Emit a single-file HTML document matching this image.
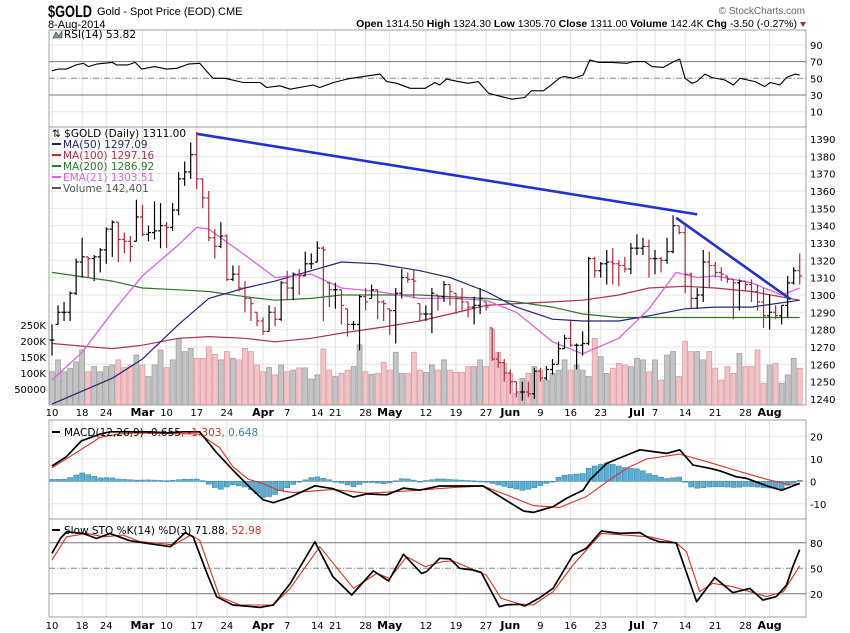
<!DOCTYPE html>
<html><head><meta charset="utf-8">
<style>
html,body{margin:0;padding:0;background:#fff;}
svg{display:block;font-family:"DejaVu Sans","Liberation Sans",sans-serif;}
</style></head>
<body>
<svg id="chart" width="850" height="633" viewBox="0 0 850 633" xmlns="http://www.w3.org/2000/svg">
<defs>
<clipPath id="cRsi"><rect x="49" y="30" width="757" height="97"/></clipPath>
<clipPath id="cPx"><rect x="49" y="127" width="757" height="278"/></clipPath>
<clipPath id="cMacd"><rect x="49" y="420" width="757" height="99"/></clipPath>
<clipPath id="cSto"><rect x="49" y="519" width="757" height="98"/></clipPath>
</defs>
<rect x="0" y="0" width="850" height="633" fill="#fff"/>
<text x="48" y="17" font-size="17" font-weight="bold" fill="#000" font-family="Liberation Sans, sans-serif" textLength="44" lengthAdjust="spacingAndGlyphs">$GOLD</text>
<text x="97" y="15" font-size="11" fill="#000" font-family="Liberation Sans, sans-serif">Gold - Spot Price (EOD)  CME</text>
<text x="48" y="28" font-size="11" fill="#000" font-family="Liberation Sans, sans-serif">8-Aug-2014</text>
<text x="805" y="14" font-size="10" fill="#666" text-anchor="end" font-family="Liberation Sans, sans-serif">© StockCharts.com</text>
<text x="797" y="27" font-size="10.5" fill="#000" text-anchor="end" font-family="Liberation Sans, sans-serif"><tspan font-weight="bold">Open</tspan> 1314.50 <tspan font-weight="bold">High</tspan> 1324.30 <tspan font-weight="bold">Low</tspan> 1305.70 <tspan font-weight="bold">Close</tspan> 1311.00 <tspan font-weight="bold">Volume</tspan> 142.4K <tspan font-weight="bold">Chg</tspan> -3.50 (-0.27%)</text>
<path d="M800 22 L806 22 L803 27 Z" fill="#a0283a"/>
<g id="grid"></g>
<g id="marks"></g>
<g id="frames"></g>
<g id="labels"></g>
</svg>
<script>
// ---- data ----
const tickDays = [0,5,9,15,19,24,29,35,39,44,47,52,56,62,67,72,76,81,86,91,97,100,105,110,115,119];
const tickLabels = ["10","18","24","Mar","10","17","24","Apr","7","14","21","28","May","12","19","27","Jun","9","16","23","Jul","7","14","21","28","Aug"];
const closes = [1274,1290,1290,1301,1319,1322,1321,1322,1326,1338,1342,1332,1331,1328,1345,1335,1336,1337,1340,1339,1349,1367,1371,1381,1367,1356,1333,1328,1334,1309,1312,1304,1298,1295,1285,1279,1290,1286,1307,1304,1312,1311,1318,1318,1327,1326,1303,1303,1294,1283,1283,1299,1296,1303,1296,1295,1291,1301,1310,1309,1308,1289,1289,
1301,1299,1306,1302,1298,1296,1293,1294,1298,1293,1263,1261,1255,1250,1244,1244,1243,1256,1252,1257,1260,1269,1275,1271,1271,1272,1321,1314,1318,1319,1318,1317,1315,1327,1327,1328,1321,1321,1320,1325,1340,1336,1312,1298,1300,1319,1317,1313,1312,1309,1307,1308,1306,1302,1296,1288,1290,1288,1294,1307,1314,1311];
const highs = [1283,1294,1296,1302,1321,1333,1322,1323,1327,1339,1343,1342,1336,1334,1355,1352,1340,1354,1353,1342,1353,1371,1377,1388,1394,1367,1360,1338,1342,1335,1317,1317,1308,1298,1290,1287,1294,1293,1308,1314,1313,1315,1325,1324,1331,1328,1307,1307,1303,1292,1285,1300,1304,1306,1303,1297,1292,1304,1315,1313,1315,1295,1294,
1304,1300,1308,1306,1301,1304,1296,1299,1304,1296,1281,1267,1263,1257,1250,1250,1250,1258,1258,1259,1263,1273,1277,1285,1272,1279,1322,1322,1319,1326,1327,1320,1322,1330,1335,1333,1332,1326,1322,1333,1346,1340,1341,1313,1304,1326,1325,1319,1316,1311,1309,1309,1308,1309,1306,1304,1300,1294,1294,1311,1316,1324];
const lows = [1265,1283,1285,1285,1300,1310,1310,1308,1313,1318,1322,1319,1324,1319,1331,1334,1331,1332,1327,1327,1337,1346,1363,1367,1361,1350,1331,1321,1327,1308,1308,1302,1290,1285,1282,1277,1279,1282,1285,1297,1297,1300,1311,1315,1319,1285,1293,1292,1283,1276,1280,1268,1291,1298,1286,1285,1277,1272,1298,1307,1298,1285,1285,
1278,1291,1296,1294,1289,1291,1287,1283,1289,1291,1262,1258,1250,1243,1241,1239,1241,1240,1250,1251,1254,1260,1269,1270,1257,1265,1271,1310,1310,1306,1306,1305,1313,1312,1323,1323,1310,1312,1313,1318,1324,1335,1301,1292,1292,1296,1304,1310,1308,1307,1286,1291,1302,1296,1291,1281,1280,1286,1283,1287,1306,1306];
const volumesK = [104,141,104,114,135,172,104,120,104,120,125,141,117,125,156,125,89,125,172,117,141,208,167,177,146,146,182,158,141,167,146,141,177,167,125,104,117,94,125,104,109,116,116,81,94,175,109,89,99,109,120,188,104,96,99,133,109,165,99,99,165,109,102,
125,109,141,109,102,102,120,120,141,120,237,165,130,99,36,83,99,120,109,78,99,109,141,109,125,109,89,208,151,99,115,130,125,120,146,141,104,141,78,156,167,89,198,167,167,141,167,115,78,120,99,161,120,120,172,68,125,130,68,94,146,115];
const maDays = [0,10,15,21,26,32,37,43,48,54,61,66,72,77,83,88,94,99,105,110,116,124];
const ma50 = [1237,1252,1263,1283,1298,1304,1308,1314,1319,1318,1314,1310,1302,1293,1286,1285,1285,1288,1292,1293,1293,1297];
const ma100 = [1272,1269,1271,1275,1276,1275,1273,1275,1278,1281,1285,1289,1294,1295,1296,1297,1300,1304,1305,1304,1302,1297];
const ma200 = [1313,1308,1304,1303,1302,1299,1297,1298,1300,1300,1300,1299,1298,1296,1293,1289,1287,1287,1287,1287,1287,1287];
const emaDays = [0,5,10,15,21,24,26,32,37,43,48,54,61,66,72,77,83,88,94,99,103.5,107,110,116,121,124];
const ema21 = [1251,1267,1290,1311,1329,1339,1338,1323,1310,1312,1304,1302,1298,1298,1297,1290,1273,1266,1275,1292,1313,1310,1311,1307,1300,1304];
const rsiDays = [0,1,2.4,4,5.2,6,7.4,10,10.7,12.6,13.8,14.9,17,19,20.7,22.6,24.5,25.7,26.7,28.7,31.7,34.5,35.6,37.8,39.5,43.3,44.4,46.7,48.9,51.6,54.4,55.5,57.2,59.4,61.9,63.5,64.3,65.4,67.4,69,70.7,72.4,74.6,76.3,78.4,79.5,81.5,82.6,84.3,85,86.5,88.1,89.2,90.6,92.8,95.3,96.4,98.3,99.5,101.4,103.1,104.1,105,106.1,106.9,108.3,109.4,111.6,113,114.1,116.6,118.2,119.1,120.7,121.8,123.2,124];
const rsiVals = [59,61,61,66,68,64,67,69,66,66,69,61,64,61,62,67,68,58,50,50,45,45,39,41,37,42,39,45,49,52,55,46,44,38,38,45,42,49,46,44,46,32,28,25,27,35,35,41,51,52,50,54,72,69,69,68,70,70,64,63,70,73,50,44,46,55,51,48,42,50,46,40,45,42,51,55,54];
const macdDays = [0,2.4,4.9,8,9.6,13.5,16.3,19,21.8,24.5,27.3,30,32.8,35,36.7,39.5,43.6,46.6,50,52.2,55.5,58.3,61,64.3,71.5,74.8,78.2,79.8,83.1,85.3,88.1,89.2,92,94.7,97.5,101.9,104.1,106.3,109.1,110.8,113.5,115.2,118.5,121,124];
const macdVals = [6.8,11,18,21,22,22,22,21.5,22,22,12.7,5,-2.6,-8.2,-9.5,-7,-2,-3.3,-7,-5.6,-6,-3,-3.9,-2.1,-2.1,-7.6,-13.2,-13.8,-11.3,-7.6,-3.9,0.6,8,11,14,12.4,14,7.2,5.8,4.6,2,1.3,-2,-4,-0.9];
const signalDays = [0,4,8,11,14,24.5,27.8,30,32.5,35,37.5,40,46.6,52.2,58.3,61,66.5,71.5,75.4,79.8,84.2,88.6,92,95.3,98.6,104.1,108.6,114.1,118.5,121.8,124];
const signalVals = [6,12.7,19.5,21,21.5,21,15,6.5,1,-1,-4,-5,-3.6,-5.3,-4.4,-3.9,-2.8,-2.1,-6.1,-10.8,-11.6,-6.8,-0.2,5.8,9.9,12.1,8.7,4.3,0.9,-1.2,-1.3];
const kDays = [0,1.4,2.4,5.2,7.4,9.6,12.9,15.7,19.6,22.1,23.4,25.7,27.3,30,34.5,36.7,39.5,43.6,46.6,49.7,53.3,55.8,58.3,61.3,62.1,64.3,66,67.6,69.8,71.2,74.2,75.4,77.6,78.4,80.9,83.1,86.4,88.6,91.1,94.1,97.5,99.1,100.8,103.5,106.9,109.9,112.9,115.7,117.9,120.1,121.8,122.9,124];
const kVals = [67.6,85,93,91,85,91,82.5,79.4,75.4,92,87,44,16.6,6.8,4,6.8,32,81,40,18.6,47,35,66.5,44,46,61.8,61,50,48,45,4.8,7,7.6,5.6,15.4,26.5,65.6,73.5,93.9,91,92,85.3,81,80,10.7,39,21.3,26.4,12.7,16.6,30.4,53,71.9];
const dDays = [0,2.4,5.8,8.5,11.8,14.6,20.2,23,24.5,27.8,31.2,36.7,39.5,44.4,50,53.9,56,58.8,61.9,64.8,66.5,72,74.5,77.6,79.8,83.1,86.4,91.1,99.1,103.5,105.2,107.4,109.6,112.9,118.5,121.3,124];
const dVals = [59.8,87,91,87,89,81.4,77.5,89,83,16.6,6.8,6.8,26.5,75.4,26.5,44,38,63.7,52,58,58.6,42.1,14.6,8,6.8,22.5,53.9,91,87,80,69.5,22.5,32.3,28.4,16.7,22.5,53];
const priceTicks = [1390,1380,1370,1360,1350,1340,1330,1320,1310,1300,1290,1280,1270,1260,1250,1240];
const volTicks = [250,200,150,100,50];
const volTickLabels = ["250K","200K","150K","100K","50000"];
const rsiTicks = [90,70,50,30,10];
const macdTicks = [20,10,0,-10];
const stoTicks = [80,50,20];
const trend1 = [[24,1393],[107,1346.5]];
const trend2 = [[103.5,1344.5],[122.5,1297.5]];

// ---- axes ----
const X = d => 52 + d*6.03;
const Yp = p => 139 + (1390-p)*1.733;
const Yv = v => 405 - v*0.32;
const Yr = r => 78.3 - (r-50)*0.835;
const Ym = m => 481.3 - m*2.25;
const Ys = s => 568.3 - (s-50)*0.85;

const NS = "http://www.w3.org/2000/svg";
const grid = document.getElementById('grid');
const marks = document.getElementById('marks');
const frames = document.getElementById('frames');
const labels = document.getElementById('labels');
function mk(tag, attrs, parent){
  const e = document.createElementNS(NS, tag);
  for (const k in attrs) e.setAttribute(k, attrs[k]);
  parent.appendChild(e);
  return e;
}
function txt(x,y,s,size,anchor,fill,weight,parent){
  const t = mk('text',{x:x,y:y,'font-size':size,'text-anchor':anchor,fill:fill,'font-weight':weight||'normal'},parent);
  t.textContent = s;
  return t;
}
const panels = [
  {name:'rsi-panel', y0:30, y1:127},
  {name:'price-panel', y0:127, y1:405},
  {name:'macd-panel', y0:420, y1:519},
  {name:'sto-panel', y0:519, y1:617}
];
panels.forEach(p=>{
  tickDays.forEach(d=>{
    const l = mk('line',{x1:X(d),x2:X(d),y1:p.y0,y2:p.y1,stroke:'#e2e2e2','stroke-width':1},grid);
    
    
  });
});
priceTicks.forEach(v=>{
  const l = mk('line',{x1:49,x2:806,y1:Yp(v),y2:Yp(v),stroke:'#e6e6e6'},grid);
  
  
  const t = txt(810,Yp(v)+4,String(v),10,'start','#000','normal',labels);
  
  
});
volTicks.forEach((v,i)=>{
  const t = txt(46,Yv(v)+4,volTickLabels[i],10,'end','#000','normal',labels);
  
  
});
rsiTicks.forEach(v=>{
  const strong = (v===70||v===30);
  const l = mk('line',{x1:49,x2:806,y1:Yr(v),y2:Yr(v),stroke:strong?'#777':(v===50?'#888':'#e6e6e6'),'stroke-dasharray':v===50?'6,2,1,2':'none'},grid);
  
  
  const t = txt(810,Yr(v)+4,String(v),10,'start','#000','normal',labels);
  
  
});
macdTicks.forEach(v=>{
  const l = mk('line',{x1:49,x2:806,y1:Ym(v),y2:Ym(v),stroke:'#e6e6e6'},grid);
  
  
  const t = txt(810,Ym(v)+4,String(v),10,'start','#000','normal',labels);
  
  
});
stoTicks.forEach(v=>{
  const l = mk('line',{x1:49,x2:806,y1:Ys(v),y2:Ys(v),stroke:v===50?'#888':'#777','stroke-dasharray':v===50?'6,2,1,2':'none'},grid);
  
  
  const t = txt(810,Ys(v)+4,String(v),10,'start','#000','normal',labels);
  
  
});
[413,626].forEach(y=>{
  tickDays.forEach((d,i)=>{
    const isMonth = isNaN(+tickLabels[i]);
    const t = txt(X(d),y+3,tickLabels[i],isMonth?11:10,'middle','#000',isMonth?'bold':'normal',labels);
    
    
  });
});

// ---- volume ----
const gVol = mk('g',{'clip-path':'url(#cPx)'},marks);
volumesK.forEach((v,i)=>{
  const up = i===0 || closes[i]>=closes[i-1];
  const r = mk('rect',{x:X(i)-2.5,y:Yv(v),width:5,height:405-Yv(v),fill:up?'#c4c4c4':'#f2c4c8',stroke:up?'#9a9a9a':'#d7959c','stroke-width':0.7},gVol);
  
  
});
function poly(days, vals, yf, color, w, clip, name){
  const pts = days.map((d,i)=>X(d).toFixed(1)+','+yf(vals[i]).toFixed(1)).join(' ');
  const g = mk('g',{'clip-path':'url(#'+clip+')'},marks);
  const p = mk('polyline',{points:pts,fill:'none',stroke:color,'stroke-width':w,'stroke-linejoin':'round'},g);
  
  
  return p;
}
poly(maDays,ma100,Yp,'#b0304a',1.2,'cPx','ma100-line');
poly(maDays,ma200,Yp,'#2a7a2a',1.2,'cPx','ma200-line');
poly(maDays,ma50,Yp,'#22247a',1.2,'cPx','ma50-line');
poly(emaDays,ema21,Yp,'#e060e0',1.3,'cPx','ema21-line');
const gBars = mk('g',{'clip-path':'url(#cPx)'},marks);
closes.forEach((c,i)=>{
  const prev = i===0 ? c : closes[i-1];
  const op = Math.min(highs[i],Math.max(lows[i],prev));
  const col = c>=prev ? '#000' : '#b0283c';
  const x = X(i);
  const g = mk('g',{stroke:col,'stroke-width':1.2},gBars);
  
  
  mk('line',{x1:x,x2:x,y1:Yp(highs[i]),y2:Yp(lows[i])},g);
  mk('line',{x1:x-2.5,x2:x,y1:Yp(op),y2:Yp(op)},g);
  mk('line',{x1:x,x2:x+2.5,y1:Yp(c),y2:Yp(c)},g);
});
[trend1,trend2].forEach((t,k)=>{
  const l = mk('line',{x1:X(t[0][0]),y1:Yp(t[0][1]),x2:X(t[1][0]),y2:Yp(t[1][1]),stroke:'#1e32d8','stroke-width':2.6},marks);
  
  
});
poly(rsiDays,rsiVals,Yr,'#000',1.1,'cRsi','rsi-line');
function interp(days, vals, d){
  if (d<=days[0]) return vals[0];
  for (let i=1;i<days.length;i++){
    if (d<=days[i]){ const t=(d-days[i-1])/(days[i]-days[i-1]); return vals[i-1]+t*(vals[i]-vals[i-1]); }
  }
  return vals[vals.length-1];
}
const gHist = mk('g',{'clip-path':'url(#cMacd)'},marks);
closes.forEach((c,i)=>{
  const h = interp(macdDays,macdVals,i)-interp(signalDays,signalVals,i);
  const y0 = Ym(0), y1 = Ym(h);
  const r = mk('rect',{x:X(i)-2.5,y:Math.min(y0,y1),width:5,height:Math.max(0.8,Math.abs(y1-y0)),fill:'#5aaed2',stroke:'#3c86ad','stroke-width':0.6},gHist);
  
  
});
poly(signalDays,signalVals,Ym,'#e0301e',1.1,'cMacd','macd-signal-line');
poly(macdDays,macdVals,Ym,'#000',1.7,'cMacd','macd-line');
poly(dDays,dVals,Ys,'#e0301e',1.1,'cSto','sto-d-line');
poly(kDays,kVals,Ys,'#000',1.7,'cSto','sto-k-line');

panels.forEach(p=>{
  const r = mk('rect',{x:49,y:p.y0,width:757,height:p.y1-p.y0,fill:'none',stroke:'#a0a0a0','stroke-width':1},frames);
  
  
});

function legendRow(x,y,items,name){
  const t = mk('text',{x:x,y:y,'font-size':10.5},labels);
  
  
  items.forEach(it=>{ const s=mk('tspan',{fill:it[1]},t); s.textContent=it[0]; });
  return t;
}
legendRow(64,38,[['RSI(14) 53.82','#000']],'rsi-legend');
mk('path',{d:'M53 38 L56 32 L59 36 L62 31 L62 38 Z',fill:'#7a9a7a',stroke:'#333','stroke-width':0.6},labels);
legendRow(52,137,[['⇅ $GOLD (Daily) 1311.00','#000']],'price-legend-title');
const legItems = [['MA(50) 1297.09','#22247a'],['MA(100) 1297.16','#b0304a'],['MA(200) 1286.92','#2a7a2a'],['EMA(21) 1303.51','#e060e0'],['Volume 142,401','#555']];
legItems.forEach((it,i)=>{
  const y = 148 + i*11;
  const l = mk('line',{x1:52,x2:61,y1:y-4,y2:y-4,stroke:it[1],'stroke-width':2},labels);
  
  
  legendRow(63,y,[[it[0],it[1]]],'legend-entry');
});
mk('line',{x1:52,x2:60,y1:432,y2:432,stroke:'#000','stroke-width':2},labels);
legendRow(64,436,[['MACD(12,26,9) -0.655','#000'],[', -1.303','#e0301e'],[', 0.648','#3c86ad']],'macd-legend');
mk('line',{x1:52,x2:60,y1:530,y2:530,stroke:'#000','stroke-width':2},labels);
legendRow(64,534,[['Slow STO %K(14) %D(3) 71.88','#000'],[', 52.98','#e0301e']],'sto-legend');
</script>
</body></html>
